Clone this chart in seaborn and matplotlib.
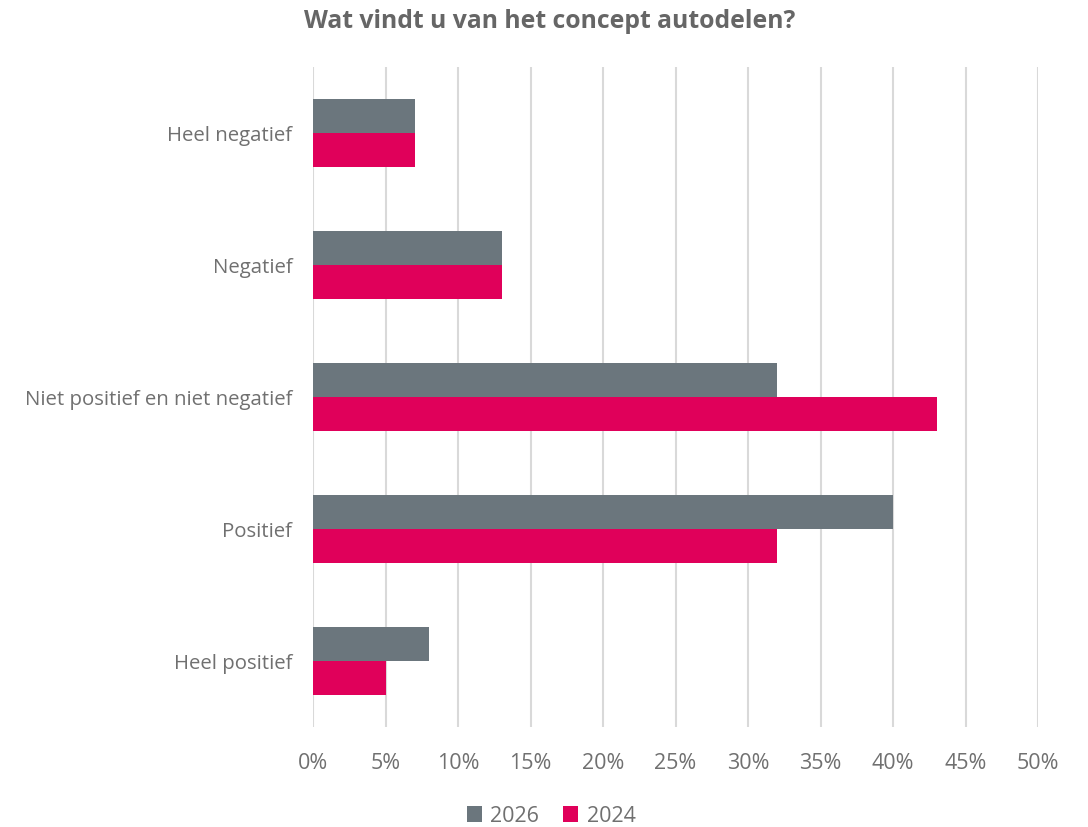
import matplotlib
matplotlib.use("Agg")
import matplotlib.pyplot as plt
import seaborn as sns
import pandas as pd
from matplotlib.ticker import FuncFormatter
from matplotlib.patches import Patch

categories = ["Heel negatief", "Negatief", "Niet positief en niet negatief", "Positief", "Heel positief"]
series_names = ["2026", "2024"]
values_2026 = [7, 13, 32, 40, 8]
values_2024 = [7, 13, 43, 32, 5]
x_ticks = [0, 5, 10, 15, 20, 25, 30, 35, 40, 45, 50]

colors = {"2026": "#6B767D", "2024": "#E0005A"}
text_color = "#707070"
title_color = "#666666"

rows = []
for c, a, b in zip(categories, values_2026, values_2024):
    rows.append({"cat": c, "year": "2026", "val": a})
    rows.append({"cat": c, "year": "2024", "val": b})
df = pd.DataFrame(rows)

sns.set_theme(style="white")
plt.rcParams["font.family"] = ["Open Sans", "DejaVu Sans"]

fig = plt.figure(figsize=(10.88, 8.28), dpi=100)
ax = fig.add_axes([313/1088, 1-728/828, (1038-313)/1088, (728-68)/828])

sns.barplot(data=df, y="cat", x="val", hue="year", order=categories,
            hue_order=series_names, palette=colors, orient="h",
            width=0.52, ax=ax, legend=False, saturation=1, linewidth=0)

ax.set_xlim(0, 50)
ax.set_ylim(4.5, -0.5)
ax.set_xticks(x_ticks)
ax.xaxis.set_major_formatter(FuncFormatter(lambda v, p: f"{int(v)}%"))
ax.grid(axis="x", color="#D9D9D9", linewidth=1.5)
ax.set_axisbelow(True)
for s in ax.spines.values():
    s.set_visible(False)
ax.set_xlabel("")
ax.set_ylabel("")
ax.tick_params(axis="x", colors=text_color, labelsize=15.5, length=0, pad=18)
ax.tick_params(axis="y", colors=text_color, labelsize=14.7, length=0, pad=15)

fig.text(550/1088, 1-21/828, "Wat vindt u van het concept autodelen?", ha="center", va="center",
         fontsize=17.8, fontweight="bold", color=title_color)

handles = [Patch(facecolor=colors[n], edgecolor="none", label=n) for n in series_names]
fig.legend(handles=handles, loc="center", bbox_to_anchor=(551/1088, 1-817/828), ncol=2,
           frameon=False, fontsize=15.5, labelcolor=text_color, handlelength=0.7, handleheight=0.7,
           handletextpad=0.4, columnspacing=1.1)

fig.savefig("out.png", dpi=100)
